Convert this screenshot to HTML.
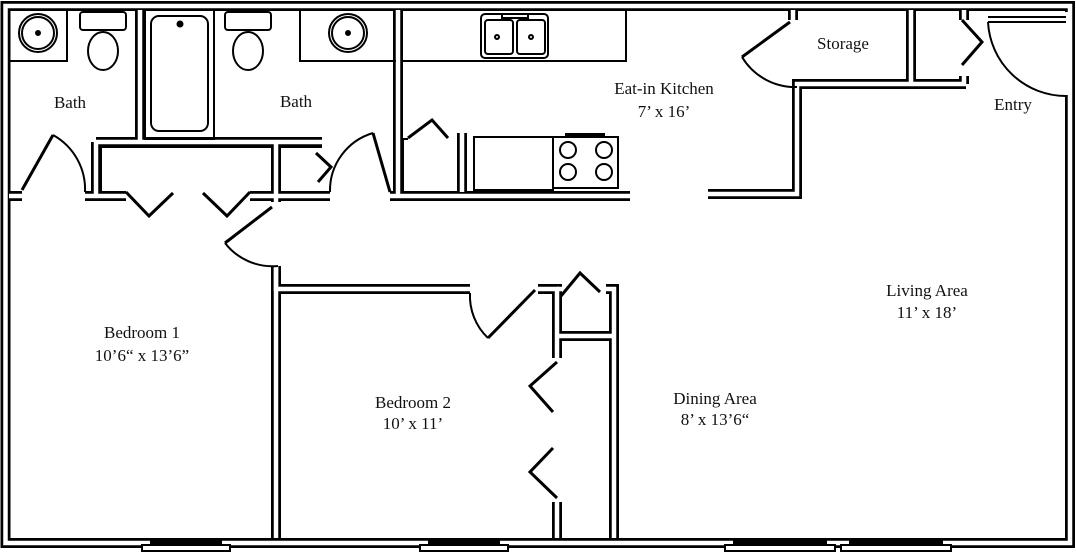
<!DOCTYPE html>
<html><head><meta charset="utf-8"><style>
html,body{margin:0;padding:0;background:#fff;}
svg{display:block;}
text{font-family:"Liberation Serif",serif;font-size:17px;fill:#111;text-anchor:middle;}
</style></head><body>
<svg width="1076" height="553" viewBox="0 0 1076 553" xmlns="http://www.w3.org/2000/svg">
<defs>
<g id="walls">
<rect x="5.5" y="6" width="1064.5" height="537" />
<path d="M140 10 V142"/>
<path d="M96 142 H322"/>
<path d="M96 142 V196"/>
<path d="M276 142 V202"/>
<path d="M9 196 H22"/>
<path d="M85 196 H126"/>
<path d="M250 196 H330"/>
<path d="M390 196 H630"/>
<path d="M398 10 V196"/>
<path d="M462 133 V192"/>
<path d="M276 266 V538"/>
<path d="M276 266 V289 H470"/>
<path d="M538 289 H557 V358"/>
<path d="M557 502 V538"/>
<path d="M557 336 H612"/>
<path d="M606 289 H614 V538"/>
<path d="M557 289 H562"/>
<path d="M708 194 H797 V84 H966"/>
<path d="M793 10 V20"/>
<path d="M911 10 V84"/>
<path d="M964 10 V20"/>
<path d="M964 76 V84"/>
</g>
</defs>
<g fill="none" stroke="#000" stroke-width="10" stroke-linejoin="miter"><use href="#walls"/></g>
<g fill="none" stroke="#fff" stroke-width="4.5" stroke-linejoin="miter"><use href="#walls"/></g>
<rect x="1064" y="12" width="7" height="83" fill="#fff"/>

<g fill="none" stroke="#000" stroke-width="2">
<path d="M10 61 H67 V10"/>
<circle cx="38" cy="33" r="19"/><circle cx="38" cy="33" r="16"/><circle cx="38" cy="33" r="2" fill="#000"/>
<rect x="80" y="12" width="46" height="18" rx="3"/>
<ellipse cx="103" cy="51" rx="15" ry="19"/>
<rect x="145" y="10" width="69" height="129"/>
<rect x="151" y="16" width="57" height="115" rx="8"/>
<circle cx="180" cy="24" r="2.5" fill="#000"/>
<rect x="225" y="12" width="46" height="18" rx="3"/>
<ellipse cx="248" cy="51" rx="15" ry="19"/>
<path d="M300 10 V61 H396"/>
<circle cx="348" cy="33" r="19"/><circle cx="348" cy="33" r="16"/><circle cx="348" cy="33" r="2" fill="#000"/>
<path d="M101 147 V192 M101 147 H272 V192"/>
<path d="M280 147 H322 M280 147 V192 M280 192 H318"/>
<path d="M22 190 L53 135" stroke-width="3"/>
<path d="M53 135 A62 62 0 0 1 85 192"/>
<path d="M390 192 L373 133" stroke-width="3"/>
<path d="M373 133 A60 60 0 0 0 330 192"/>
<path d="M316 153 L331 167 L318 182" stroke-width="3"/>
<path d="M126 192 L149 216 L173 193" stroke-width="3"/>
<path d="M203 193 L227 216 L250 192" stroke-width="3"/>
<path d="M272 207 L225 243" stroke-width="3"/>
<path d="M225 243 A60 60 0 0 0 278 266"/>
<path d="M403 61 H626 V10"/>
<rect x="481" y="14" width="67" height="44" rx="4"/>
<rect x="485" y="20" width="28" height="34" rx="3"/>
<rect x="517" y="20" width="28" height="34" rx="3"/>
<rect x="502" y="14" width="26" height="4"/>
<circle cx="497" cy="37" r="2"/><circle cx="531" cy="37" r="2"/>
<path d="M403 139 H408 M403 139 V192"/>
<path d="M408 138 L432 120 L448 138" stroke-width="3"/>
<rect x="474" y="137" width="79" height="53"/>
<rect x="553" y="137" width="65" height="51"/>
<rect x="566" y="134" width="38" height="3" fill="#000"/>
<circle cx="568" cy="150" r="8"/><circle cx="604" cy="150" r="8"/>
<circle cx="568" cy="172" r="8"/><circle cx="604" cy="172" r="8"/>
<path d="M790 22 L742 57" stroke-width="3"/>
<path d="M742 57 A62 62 0 0 0 797 87"/>
<path d="M962 20 L982 42 L962 65" stroke-width="3"/>
<path d="M988 17 H1066 M988 22 H1066"/>
<path d="M988 22 A78 78 0 0 0 1066 96"/>
<path d="M535 290 L488 338" stroke-width="3"/>
<path d="M470 293 A58 58 0 0 0 488 338"/>
<path d="M561 296 L580 273 L600 292" stroke-width="3"/>
<path d="M557 362 L530 386 L553 412" stroke-width="3"/>
<path d="M553 448 L530 472 L557 498" stroke-width="3"/>
</g>
<g fill="#fff" stroke="#000" stroke-width="2">
<rect x="142" y="545" width="88" height="6"/>
<rect x="420" y="545" width="88" height="6"/>
<rect x="725" y="545" width="110" height="6"/>
<rect x="841" y="545" width="110" height="6"/>
</g>
<g fill="#000">
<rect x="150" y="540" width="72" height="5"/>
<rect x="428" y="540" width="72" height="5"/>
<rect x="733" y="540" width="94" height="5"/>
<rect x="849" y="540" width="94" height="5"/>
</g>
<text x="70" y="108">Bath</text>
<text x="296" y="107">Bath</text>
<text x="664" y="94">Eat-in Kitchen</text>
<text x="664" y="117">7’ x 16’</text>
<text x="843" y="49">Storage</text>
<text x="1013" y="110">Entry</text>
<text x="927" y="296">Living Area</text>
<text x="927" y="318">11’ x 18’</text>
<text x="142" y="338">Bedroom 1</text>
<text x="142" y="361">10’6“ x 13’6”</text>
<text x="413" y="408">Bedroom 2</text>
<text x="413" y="429">10’ x 11’</text>
<text x="715" y="404">Dining Area</text>
<text x="715" y="425">8’ x 13’6“</text>
</svg>
</body></html>
